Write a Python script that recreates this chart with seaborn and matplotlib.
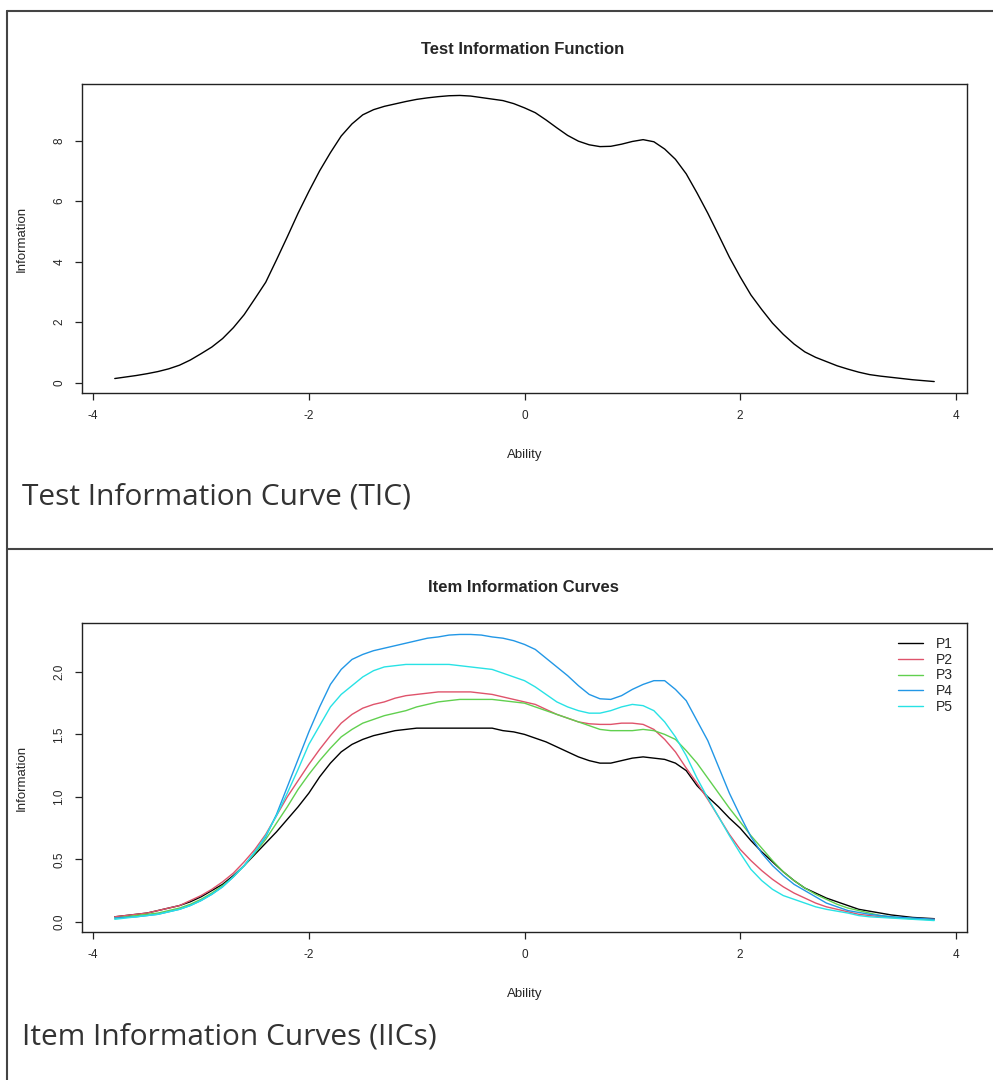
import numpy as np
import pandas as pd
import matplotlib
matplotlib.use("Agg")
import matplotlib.pyplot as plt
import seaborn as sns
from matplotlib.lines import Line2D

# ability grid shared by both plots (-3.8 .. 3.8, step 0.1)
ability = [-3.8, -3.7, -3.6, -3.5, -3.4, -3.3, -3.2, -3.1, -3.0, -2.9,
           -2.8, -2.7, -2.6, -2.5, -2.4, -2.3, -2.2, -2.1, -2.0, -1.9,
           -1.8, -1.7, -1.6, -1.5, -1.4, -1.3, -1.2, -1.1, -1.0, -0.9,
           -0.8, -0.7, -0.6, -0.5, -0.4, -0.3, -0.2, -0.1, 0.0, 0.1,
           0.2, 0.3, 0.4, 0.5, 0.6, 0.7, 0.8, 0.9, 1.0, 1.1,
           1.2, 1.3, 1.4, 1.5, 1.6, 1.7, 1.8, 1.9, 2.0, 2.1,
           2.2, 2.3, 2.4, 2.5, 2.6, 2.7, 2.8, 2.9, 3.0, 3.1,
           3.2, 3.3, 3.4, 3.5, 3.6, 3.7, 3.8]

# test information function
tic = [0.14, 0.19, 0.24, 0.30, 0.37, 0.46, 0.58, 0.75, 0.96, 1.18,
       1.46, 1.82, 2.25, 2.78, 3.32, 4.06, 4.82, 5.60, 6.32, 7.00,
       7.60, 8.15, 8.55, 8.85, 9.02, 9.13, 9.21, 9.29, 9.36, 9.41,
       9.45, 9.48, 9.49, 9.47, 9.42, 9.37, 9.32, 9.22, 9.08, 8.92,
       8.68, 8.42, 8.17, 7.98, 7.86, 7.80, 7.81, 7.88, 7.97, 8.03,
       7.96, 7.72, 7.38, 6.90, 6.27, 5.60, 4.88, 4.15, 3.50, 2.90,
       2.42, 1.97, 1.60, 1.28, 1.02, 0.84, 0.70, 0.56, 0.45, 0.35,
       0.27, 0.22, 0.18, 0.14, 0.10, 0.07, 0.04]

# item information curves
p1 = [0.04, 0.05, 0.06, 0.07, 0.09, 0.11, 0.13, 0.16, 0.20, 0.25,
      0.30, 0.37, 0.45, 0.54, 0.63, 0.72, 0.82, 0.92, 1.03, 1.16,
      1.27, 1.36, 1.42, 1.46, 1.49, 1.51, 1.53, 1.54, 1.55, 1.55,
      1.55, 1.55, 1.55, 1.55, 1.55, 1.55, 1.53, 1.52, 1.50, 1.47,
      1.44, 1.40, 1.36, 1.32, 1.29, 1.27, 1.27, 1.29, 1.31, 1.32,
      1.31, 1.30, 1.27, 1.21, 1.09, 1.00, 0.92, 0.83, 0.75, 0.65,
      0.56, 0.48, 0.40, 0.33, 0.27, 0.23, 0.19, 0.16, 0.13, 0.10,
      0.085, 0.07, 0.055, 0.045, 0.035, 0.03, 0.025]
p2 = [0.04, 0.05, 0.06, 0.07, 0.09, 0.11, 0.13, 0.17, 0.21, 0.26,
      0.32, 0.39, 0.48, 0.58, 0.70, 0.85, 1.00, 1.13, 1.26, 1.38,
      1.49, 1.59, 1.66, 1.71, 1.74, 1.76, 1.79, 1.81, 1.82, 1.83,
      1.84, 1.84, 1.84, 1.84, 1.83, 1.82, 1.80, 1.78, 1.76, 1.74,
      1.70, 1.66, 1.63, 1.60, 1.585, 1.58, 1.58, 1.59, 1.59, 1.58,
      1.54, 1.46, 1.36, 1.23, 1.11, 0.98, 0.84, 0.70, 0.58, 0.49,
      0.41, 0.34, 0.28, 0.23, 0.19, 0.15, 0.12, 0.10, 0.08, 0.06,
      0.05, 0.04, 0.035, 0.03, 0.025, 0.02, 0.02]
p3 = [0.03, 0.04, 0.05, 0.06, 0.07, 0.09, 0.11, 0.14, 0.18, 0.23,
      0.29, 0.36, 0.45, 0.55, 0.66, 0.79, 0.92, 1.06, 1.18, 1.29,
      1.39, 1.48, 1.54, 1.59, 1.62, 1.65, 1.67, 1.69, 1.72, 1.74,
      1.76, 1.77, 1.78, 1.78, 1.78, 1.78, 1.77, 1.76, 1.75, 1.72,
      1.69, 1.66, 1.63, 1.60, 1.57, 1.54, 1.53, 1.53, 1.53, 1.54,
      1.53, 1.50, 1.46, 1.37, 1.27, 1.15, 1.03, 0.91, 0.80, 0.69,
      0.59, 0.49, 0.40, 0.33, 0.27, 0.22, 0.18, 0.14, 0.11, 0.09,
      0.07, 0.05, 0.04, 0.03, 0.025, 0.02, 0.015]
p4 = [0.03, 0.035, 0.04, 0.05, 0.06, 0.08, 0.10, 0.13, 0.17, 0.22,
      0.28, 0.36, 0.45, 0.56, 0.68, 0.86, 1.08, 1.30, 1.52, 1.72,
      1.90, 2.02, 2.10, 2.14, 2.17, 2.19, 2.21, 2.23, 2.25, 2.27,
      2.28, 2.295, 2.30, 2.30, 2.295, 2.28, 2.27, 2.25, 2.22, 2.18,
      2.11, 2.04, 1.97, 1.89, 1.82, 1.785, 1.78, 1.81, 1.86, 1.90,
      1.93, 1.93, 1.86, 1.77, 1.61, 1.45, 1.24, 1.03, 0.85, 0.68,
      0.55, 0.45, 0.37, 0.30, 0.25, 0.20, 0.15, 0.12, 0.09, 0.075,
      0.06, 0.05, 0.04, 0.035, 0.03, 0.025, 0.02]
p5 = [0.02, 0.03, 0.04, 0.05, 0.06, 0.08, 0.10, 0.13, 0.17, 0.22,
      0.28, 0.36, 0.45, 0.56, 0.69, 0.85, 1.03, 1.22, 1.42, 1.57,
      1.72, 1.82, 1.89, 1.96, 2.01, 2.04, 2.05, 2.06, 2.06, 2.06,
      2.06, 2.06, 2.05, 2.04, 2.03, 2.02, 1.99, 1.96, 1.93, 1.88,
      1.82, 1.76, 1.72, 1.69, 1.67, 1.67, 1.69, 1.72, 1.74, 1.73,
      1.69, 1.60, 1.48, 1.33, 1.15, 0.99, 0.84, 0.69, 0.55, 0.42,
      0.33, 0.26, 0.21, 0.18, 0.15, 0.12, 0.10, 0.085, 0.07, 0.05,
      0.04, 0.035, 0.03, 0.025, 0.02, 0.015, 0.01]
items = ["P1", "P2", "P3", "P4", "P5"]
item_colors = ["#000000", "#DF536B", "#61D04F", "#2297E6", "#28E2E5"]

tic_df = pd.DataFrame({"Ability": ability, "Information": tic})
iic_df = pd.concat([pd.DataFrame({"Ability": ability, "Information": v, "Item": name})
                    for name, v in zip(items, [p1, p2, p3, p4, p5])], ignore_index=True)

sns.set_style("ticks")
plt.rcParams["font.family"] = ["Liberation Sans", "DejaVu Sans"]
plt.rcParams["axes.unicode_minus"] = False

W, H = 993, 1080
fig = plt.figure(figsize=(W / 100, H / 100), dpi=100)


def px_axes(left, top, right, bottom):
    return fig.add_axes([left / W, 1 - bottom / H, (right - left) / W, (bottom - top) / H])


def r_style(ax, yvals, yticks, fmt):
    # R-style axes: 4% padding, rotated y labels, boxed plot
    lo, hi = min(yvals), max(yvals)
    pad = 0.04 * (hi - lo)
    ax.set_ylim(lo - pad, hi + pad)
    ax.set_xlim(-3.8 - 0.304, 3.8 + 0.304)
    ax.set_xticks([-4, -2, 0, 2, 4])
    ax.set_yticks(yticks)
    ax.set_yticklabels([fmt.format(t) for t in yticks], rotation=90, va="center")
    for s in ax.spines.values():
        s.set_visible(True)
        s.set_color("#222222")
        s.set_linewidth(1.0)
    ax.tick_params(length=5, width=0.9, color="#222222", labelsize=8.5, pad=7)
    ax.set_xlabel("Ability", fontsize=9.5)
    ax.set_ylabel("Information", fontsize=9.5)
    ax.xaxis.set_label_coords(0.5, -(455 - 393) / 309)
    ax.xaxis.label.set_va("center")
    ax.yaxis.set_label_coords(-(82 - 22) / 885, 0.5)
    ax.yaxis.label.set_va("center")


# top panel
ax1 = px_axes(82, 84, 967, 393)
sns.lineplot(data=tic_df, x="Ability", y="Information", color="black",
             linewidth=1.0, estimator=None, sort=False, ax=ax1)
r_style(ax1, tic, [0, 2, 4, 6, 8], "{:d}")
fig.text(523 / W, 1 - 49 / H, "Test Information Function", ha="center", va="center",
         fontsize=12, fontweight="bold")

# bottom panel
ax2 = px_axes(82, 623, 967, 932)
sns.lineplot(data=iic_df, x="Ability", y="Information", hue="Item", hue_order=items,
             palette=item_colors, linewidth=1.0, estimator=None, sort=False, ax=ax2)
r_style(ax2, p1 + p2 + p3 + p4 + p5, [0.0, 0.5, 1.0, 1.5, 2.0], "{:.1f}")
fig.text(523 / W, 1 - 588 / H, "Item Information Curves", ha="center", va="center",
         fontsize=12, fontweight="bold")
ax2.legend(loc="upper right", bbox_to_anchor=(0.998, 0.995), frameon=False,
           fontsize=10, handlelength=1.8, labelspacing=0.12, handletextpad=0.9)

# captions
cap_kw = dict(ha="left", va="center", fontsize=21.5, color="#333333", family=["Open Sans", "DejaVu Sans"])
fig.text(22 / W, 1 - 497 / H, "Test Information Curve (TIC)", **cap_kw)
fig.text(22 / W, 1 - 1037 / H, "Item Information Curves (IICs)", **cap_kw)

# outer frame lines
frame_kw = dict(color="#444444", linewidth=1.5, transform=fig.transFigure)
fig.add_artist(Line2D([7.3 / W, 7.3 / W], [0, 1 - 10.7 / H], **frame_kw))
fig.add_artist(Line2D([7.3 / W, 1], [1 - 10.7 / H, 1 - 10.7 / H], **frame_kw))
fig.add_artist(Line2D([7.3 / W, 1], [1 - 549 / H, 1 - 549 / H], **frame_kw))

fig.savefig("out.png", dpi=100, facecolor="white")
